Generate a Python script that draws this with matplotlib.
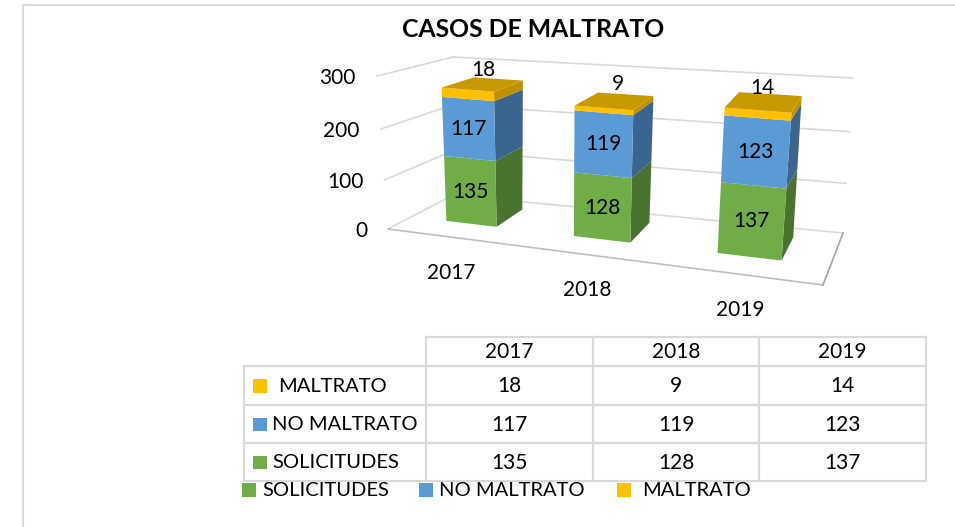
import matplotlib
matplotlib.use("Agg")
import matplotlib.pyplot as plt
from matplotlib.patches import Rectangle

plt.rcParams['font.family'] = ['Lato', 'DejaVu Sans']

years = ['2017', '2018', '2019']
series_names = ['SOLICITUDES', 'NO MALTRATO', 'MALTRATO']
solicitudes = [135, 128, 137]
no_maltrato = [117, 119, 123]
maltrato = [18, 9, 14]
y_ticks = [0, 100, 200, 300]

front_colors = ['#70AD47', '#5B9BD5', '#FFC000']
side_colors = ['#4B7330', '#3A658E', '#BF9000']
top_color = '#C79A00'
GRID = '#D9D9D9'
TXT = '#000000'
W, H = 955, 527
FS = 15

# box corners in pixel space: (value 0, value 300) for each plan corner
FL = ((388, 229), (377, 76))
FR = ((823, 285), (838, 115))
BL = ((453, 195), (453, 57))
BR = ((843, 233), (853, 78))
K = 1.2    # perspective along the category axis
M = 1.06   # perspective along the value axis


def lerp(a, b, t):
    return (a[0] + (b[0] - a[0]) * t, a[1] + (b[1] - a[1]) * t)


def project(u, v, d):
    """u: category axis 0-1, v: value 0-300, d: depth 0-1 -> pixels"""
    w = u / (u + K * (1 - u))
    r = v / 300
    t = r / (r + M * (1 - r))
    left = lerp(lerp(FL[0], BL[0], d), lerp(FL[1], BL[1], d), t)
    right = lerp(lerp(FR[0], BR[0], d), lerp(FR[1], BR[1], d), t)
    return lerp(left, right, w)


fig = plt.figure(figsize=(W / 100, H / 100), dpi=100)
ax = fig.add_axes([0, 0, 1, 1])
ax.set_xlim(0, W)
ax.set_ylim(H, 0)
ax.axis('off')


def poly(points, **kw):
    xs, ys = zip(*points)
    ax.fill(xs, ys, **kw)


def line(a, b, color=GRID, lw=1.2, z=1):
    ax.plot([a[0], b[0]], [a[1], b[1]], color=color, lw=lw, zorder=z,
            solid_capstyle='projecting')


# outer frame
ax.plot([23, 23, W], [H, 4.5, 4.5], color='#DADADA', lw=1.5, zorder=1)

# walls and floor
for t in y_ticks:
    line(project(0, t, 0), project(0, t, 1))
    line(project(0, t, 1), project(1, t, 1))
    ax.text(project(0, t, 0)[0] - 21, project(0, t, 0)[1] + 2, str(t),
            ha='right', va='center', fontsize=FS, color=TXT)
line(project(0, 0, 0), project(1, 0, 0), color='#BFBFBF')
line(project(1, 0, 0), project(1, 0, 1), color='#A6A6A6')

# bars
half = 0.068
D0, D1 = 0.36, 0.82
top_offsets = [(1, -14), (3, -17), (-1, -14)]
for i, year in enumerate(years):
    c = (i + 0.5) / 3
    u0, u1 = c - half, c + half
    base = 0
    vals = [solicitudes[i], no_maltrato[i], maltrato[i]]
    for s, val in enumerate(vals):
        top = base + val
        poly([project(u1, base, D0), project(u1, base, D1),
              project(u1, top, D1), project(u1, top, D0)],
             color=side_colors[s], lw=0, zorder=3)
        poly([project(u0, base, D0), project(u1, base, D0),
              project(u1, top, D0), project(u0, top, D0)],
             color=front_colors[s], lw=0, zorder=4)
        cx, cy = project(c, base + val / 2, D0)
        if s < 2:
            ax.text(cx, cy, str(val), ha='center', va='center',
                    fontsize=FS, color=TXT, zorder=6)
        else:
            poly([project(u0, top, D0), project(u1, top, D0),
                  project(u1, top, D1), project(u0, top, D1)],
                 color=top_color, lw=0, zorder=5)
            tx, ty = project(c, top, (D0 + D1) / 2)
            ox, oy = top_offsets[i]
            ax.text(tx + ox, ty + oy, str(val), ha='center', va='center',
                    fontsize=FS, color=TXT, zorder=6)
        base = top
    fx, fy = project(c, 0, 0)
    ax.text(fx + 1, fy + 36, year, ha='center', va='center', fontsize=FS, color=TXT)

# title
ax.text(533, 29.5, 'CASOS DE MALTRATO', ha='center', va='center',
        fontsize=17.8, fontweight='bold', color=TXT)

# data table
col_x = [426, 593, 759, 926]
row_y = [337, 366, 405, 443, 481]
left_x = 244
tline = dict(color=GRID, lw=1.6, zorder=1)
for x in col_x:
    ax.plot([x, x], [row_y[0], row_y[-1]], **tline)
ax.plot([left_x, left_x], [row_y[1], row_y[-1]], **tline)
ax.plot([col_x[0], col_x[-1]], [row_y[0], row_y[0]], **tline)
for y in row_y[1:]:
    ax.plot([left_x, col_x[-1]], [y, y], **tline)
for j, year in enumerate(years):
    ax.text((col_x[j] + col_x[j + 1]) / 2, (row_y[0] + row_y[1]) / 2 + 1, year,
            ha='center', va='center', fontsize=FS, color=TXT)

rows = [(2, maltrato, 278), (1, no_maltrato, 272), (0, solicitudes, 272)]
for r, (s, vals, tx) in enumerate(rows):
    yc = (row_y[r + 1] + row_y[r + 2]) / 2
    ax.add_patch(Rectangle((253, yc - 6.5), 13.5, 13.5, color=front_colors[s], lw=0, zorder=3))
    ax.text(tx, yc + 1, series_names[s], ha='left', va='center', fontsize=14.5, color=TXT)
    for j, v in enumerate(vals):
        ax.text((col_x[j] + col_x[j + 1]) / 2, yc + 1, str(v), ha='center',
                va='center', fontsize=FS, color=TXT)

# legend
legend_pos = [(242, 262), (419, 439), (617, 642)]
for s, (sq, tx) in enumerate(legend_pos):
    ax.add_patch(Rectangle((sq, 483), 14, 14, color=front_colors[s], lw=0, zorder=3))
    ax.text(tx, 490.5, series_names[s], ha='left', va='center', fontsize=14.5, color=TXT)

fig.savefig('out.png', dpi=100, facecolor='white')
